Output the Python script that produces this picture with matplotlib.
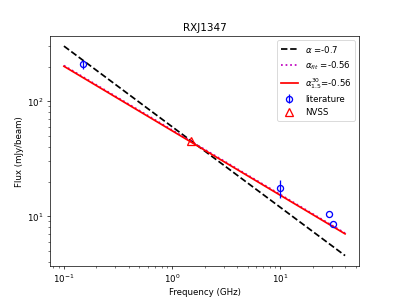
import numpy as np
import matplotlib
matplotlib.use('Agg')
import matplotlib.pyplot as plt

# literature points (GHz, mJy/beam)
litFreq = [0.15, 10.0, 28.5, 31.0]
litFlux = [210.0, 17.5, 10.4, 8.6]
litErr = [20.0, 3.0, 0.0, 0.0]

# NVSS point
nvssFreq = [1.5]
nvssFlux = [45.0]

# power-law models, normalised at 1.4 GHz
freqs = np.logspace(-1, np.log10(40), 50)
alphaFix, normFix = -0.7, 47.5
alphaFit, normFit = -0.56, 46.6
alpha30, norm30 = -0.56, 45.9

fig = plt.figure(figsize=(6.4, 4.8), dpi=62.35)
ax = fig.add_subplot(111)
l1, = ax.plot(freqs, normFix * (freqs / 1.4)**alphaFix, 'k--', lw=2,
        label=r'$\alpha$ ={}'.format(alphaFix))
l2, = ax.plot(freqs, normFit * (freqs / 1.4)**alphaFit, 'm:', lw=2,
        label=r'$\alpha_{{fit}}$ ={}'.format(alphaFit))
l3, = ax.plot(freqs, norm30 * (freqs / 1.4)**alpha30, 'r-', lw=2,
        label=r'$\alpha_{{1.5}}^{{30}}$={}'.format(alpha30))
eb = ax.errorbar(litFreq, litFlux, yerr=litErr, fmt='o', color='b',
        mfc='none', ms=7, mew=1.5, elinewidth=1.5, label='literature')
nv, = ax.plot(nvssFreq, nvssFlux, '^', color='r', mfc='none', ms=10,
        mew=1.5, linestyle='none', label='NVSS')
ax.set_xscale('log')
ax.set_yscale('log')
ax.set_xlabel('Frequency (GHz)')
ax.set_ylabel('Flux (mJy/beam)')
ax.set_title('RXJ1347')
ax.legend(handles=[l1, l2, l3, eb, nv], loc='upper right')
fig.savefig('out.png', dpi=62.35)
